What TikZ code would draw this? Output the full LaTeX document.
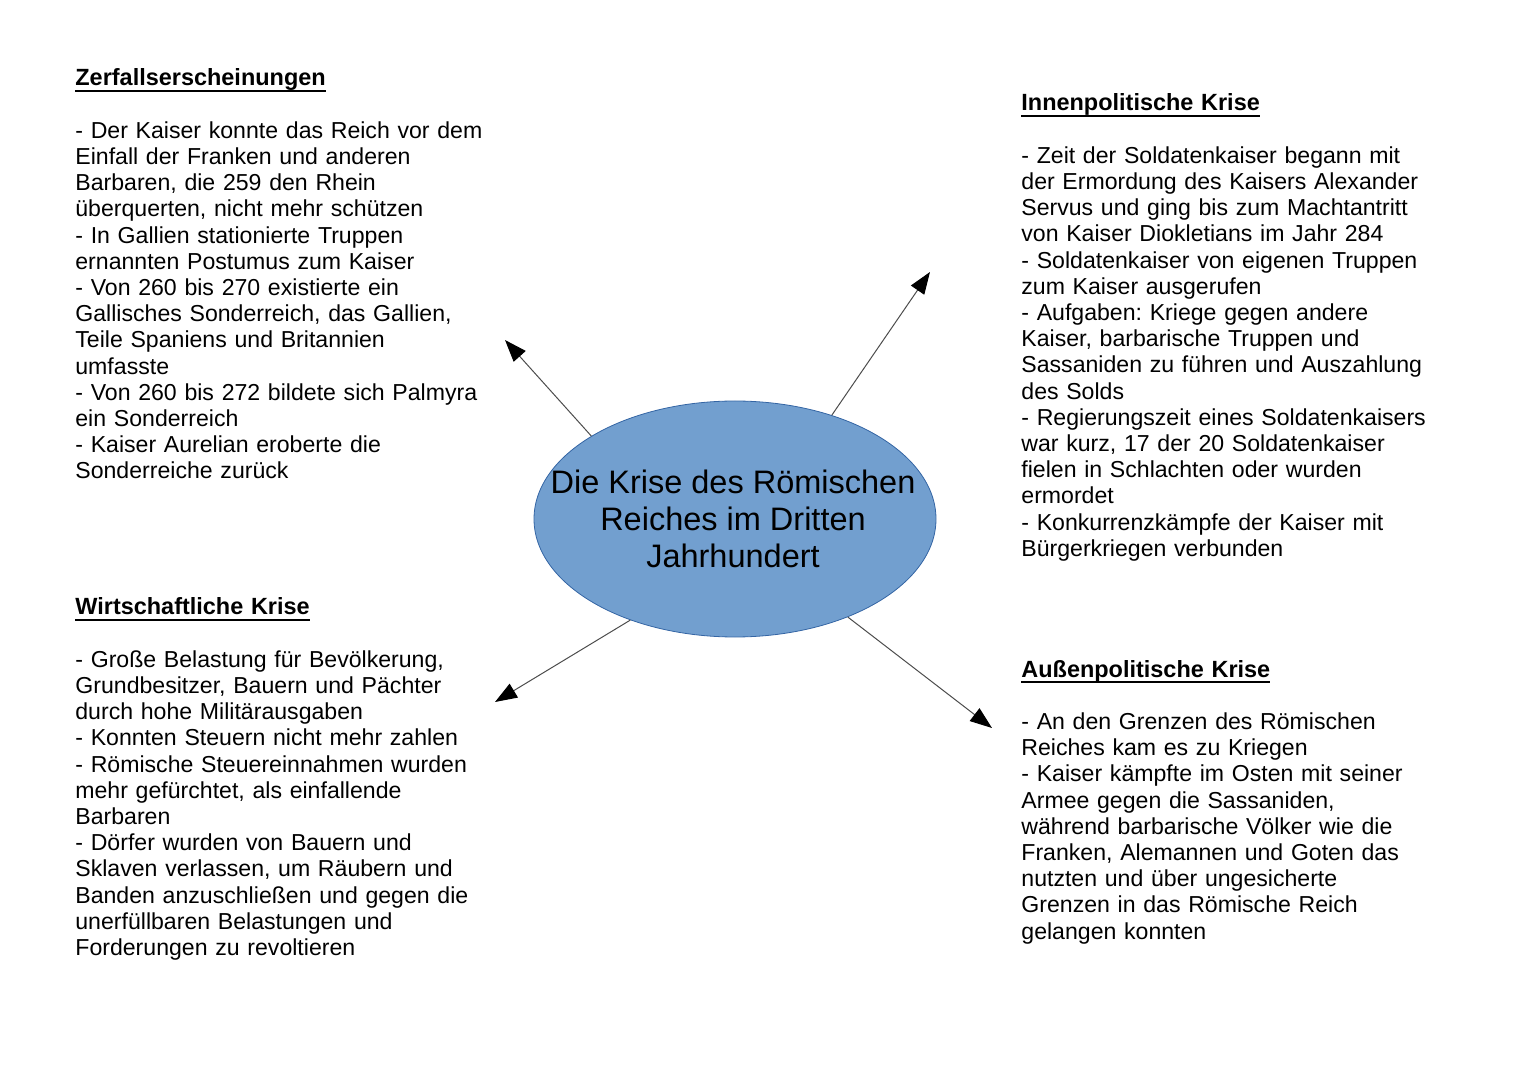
\documentclass[tikz,border=0pt]{standalone}
\usepackage{fontspec}
\setmainfont{Liberation Sans}
\frenchspacing
\usetikzlibrary{positioning}
\usetikzlibrary{shapes.geometric}
\usetikzlibrary{arrows.meta}
\definecolor{kernblau}{HTML}{729FCF}
\definecolor{kernrand}{HTML}{3465A4}
\newsavebox{\kopfbox}
\newcommand{\kopf}[1]{\sbox{\kopfbox}{\fontsize{11.73pt}{13.1pt}\bfseries #1}\rlap{\rule[-3pt]{\wd\kopfbox}{1pt}}\usebox{\kopfbox}\\[13.1pt]}

\begin{document}
\begin{tikzpicture}[x=0.5pt,y=-0.5pt
  ,block/.style={anchor=base west,inner sep=0pt,text width=215pt,align=left
                ,font=\fontsize{11.55pt}{13.1pt}\selectfont}
  ,kernform/.style={ellipse,fill=kernblau,draw=kernrand,line width=0.4pt,inner sep=0pt
                   ,minimum width=201pt,minimum height=118pt}
  ,kerntext/.style={align=center,xshift=-1pt,font=\fontsize{16.25pt}{18.35pt}\selectfont}
  ,pfeil/.style={-{Triangle[length=11pt,width=8pt,color=black]},draw=black!70,line width=0.5pt}
  ]
\useasboundingbox (0,0) rectangle (1527,1080);
\node[kernform,label={[kerntext]center:Die Krise des Römischen\\Reiches im Dritten\\Jahrhundert}] (kern) at (735,519) {};

\node[block] (zerfall) at (75,86) {\kopf{Zerfallserscheinungen}
  - Der Kaiser konnte das Reich vor dem\\
  Einfall der Franken und anderen\\
  Barbaren, die 259 den Rhein\\
  überquerten, nicht mehr schützen\\
  - In Gallien stationierte Truppen\\
  ernannten Postumus zum Kaiser\\
  - Von 260 bis 270 existierte ein\\
  Gallisches Sonderreich, das Gallien,\\
  Teile Spaniens und Britannien\\
  umfasste\\
  - Von 260 bis 272 bildete sich Palmyra\\
  ein Sonderreich\\
  - Kaiser Aurelian eroberte die\\
  Sonderreiche zurück};

\node[block] (innen) at (1021,111) {\kopf{Innenpolitische Krise}
  - Zeit der Soldatenkaiser begann mit\\
  der Ermordung des Kaisers Alexander\\
  Servus und ging bis zum Machtantritt\\
  von Kaiser Diokletians im Jahr 284\\
  - Soldatenkaiser von eigenen Truppen\\
  zum Kaiser ausgerufen\\
  - Aufgaben: Kriege gegen andere\\
  Kaiser, barbarische Truppen und\\
  Sassaniden zu führen und Auszahlung\\
  des Solds\\
  - Regierungszeit eines Soldatenkaisers\\
  war kurz, 17 der 20 Soldatenkaiser\\
  fielen in Schlachten oder wurden\\
  ermordet\\
  - Konkurrenzkämpfe der Kaiser mit\\
  Bürgerkriegen verbunden};

\node[block] (wirtschaft) at (75,615) {\kopf{Wirtschaftliche Krise}
  - Große Belastung für Bevölkerung,\\
  Grundbesitzer, Bauern und Pächter\\
  durch hohe Militärausgaben\\
  - Konnten Steuern nicht mehr zahlen\\
  - Römische Steuereinnahmen wurden\\
  mehr gefürchtet, als einfallende\\
  Barbaren\\
  - Dörfer wurden von Bauern und\\
  Sklaven verlassen, um Räubern und\\
  Banden anzuschließen und gegen die\\
  unerfüllbaren Belastungen und\\
  Forderungen zu revoltieren};

\node[block] (aussen) at (1021,677) {\kopf{Außenpolitische Krise}
  - An den Grenzen des Römischen\\
  Reiches kam es zu Kriegen\\
  - Kaiser kämpfte im Osten mit seiner\\
  Armee gegen die Sassaniden,\\
  während barbarische Völker wie die\\
  Franken, Alemannen und Goten das\\
  nutzten und über ungesicherte\\
  Grenzen in das Römische Reich\\
  gelangen konnten};

\coordinate (zielz) at (505,340);
\coordinate (zieli) at (930,272);
\coordinate (zielw) at (495,702);
\coordinate (ziela) at (992,728);
\draw[pfeil] (kern.150) -- (zielz);
\draw[pfeil] (kern.47) -- (zieli);
\draw[pfeil] (kern.224) -- (zielw);
\draw[pfeil] (kern.319) -- (ziela);
\end{tikzpicture}
\end{document}
